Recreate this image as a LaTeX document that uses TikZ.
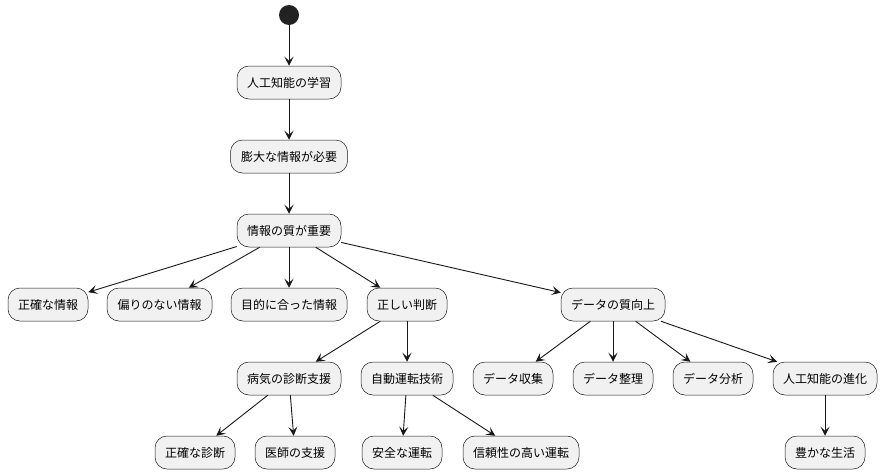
\documentclass[tikz,border=0pt]{standalone}
\usepackage{fontspec}
\setmainfont{Noto Sans CJK JP}
\usetikzlibrary{arrows.meta}
\definecolor{actfill}{HTML}{F1F1F1}
\definecolor{actline}{HTML}{181818}
\definecolor{startfill}{HTML}{222222}
\begin{document}
\begin{tikzpicture}[x=1pt,y=-1pt,
  act/.style={draw=actline, fill=actfill, rounded corners=12pt, minimum height=33pt,
    inner sep=0pt, line width=0.5pt, font=\fontsize{12}{14}\selectfont},
  flow/.style={draw=actline, line width=0.9pt, -{Stealth[length=9pt,width=9pt,inset=4pt]}}]
\useasboundingbox (0,0) rectangle (882,474);
\node[circle, fill=startfill, minimum size=20pt, inner sep=0pt] (start) at (289,15) {};
\node[act, minimum width=104pt] (n1) at (289,82.5) {人工知能の学習};
\node[act, minimum width=117pt] (n2) at (289,156.5) {膨大な情報が必要};
\node[act, minimum width=104pt] (n3) at (289,230.5) {情報の質が重要};
\node[act, minimum width=80pt] (a1) at (48,304.5) {正確な情報};
\node[act, minimum width=105pt] (a2) at (159.5,304.5) {偏りのない情報};
\node[act, minimum width=116pt] (a3) at (289,304.5) {目的に合った情報};
\node[act, minimum width=80pt] (a4) at (407,304.5) {正しい判断};
\node[act, minimum width=104pt] (a5) at (613,304.5) {データの質向上};
\node[act, minimum width=104pt] (b1) at (289,378.5) {病気の診断支援};
\node[act, minimum width=92pt] (b2) at (407,378.5) {自動運転技術};
\node[act, minimum width=80pt] (b3) at (513,378.5) {データ収集};
\node[act, minimum width=80pt] (b4) at (613,378.5) {データ整理};
\node[act, minimum width=80pt] (b5) at (713,378.5) {データ分析};
\node[act, minimum width=104pt] (b6) at (825,378.5) {人工知能の進化};
\node[act, minimum width=80pt] (c1) at (195,452.5) {正確な診断};
\node[act, minimum width=80pt] (c2) at (295,452.5) {医師の支援};
\node[act, minimum width=80pt] (c3) at (402,452.5) {安全な運転};
\node[act, minimum width=116pt] (c4) at (521,452.5) {信頼性の高い運転};
\node[act, minimum width=80pt] (c5) at (825,452.5) {豊かな生活};
\draw[flow] (start) -- (n1);
\draw[flow] (n1) -- (n2);
\draw[flow] (n2) -- (n3);
\draw[flow] (n3) -- (a1);
\draw[flow] (n3) -- (a2);
\draw[flow] (n3) -- (a3);
\draw[flow] (n3) -- (a4);
\draw[flow] (n3) -- (a5);
\draw[flow] (a4) -- (b1);
\draw[flow] (a4) -- (b2);
\draw[flow] (a5) -- (b3);
\draw[flow] (a5) -- (b4);
\draw[flow] (a5) -- (b5);
\draw[flow] (a5) -- (b6);
\draw[flow] (b1) -- (c1);
\draw[flow] (b1) -- (c2);
\draw[flow] (b2) -- (c3);
\draw[flow] (b2) -- (c4);
\draw[flow] (b6) -- (c5);
\end{tikzpicture}
\end{document}
